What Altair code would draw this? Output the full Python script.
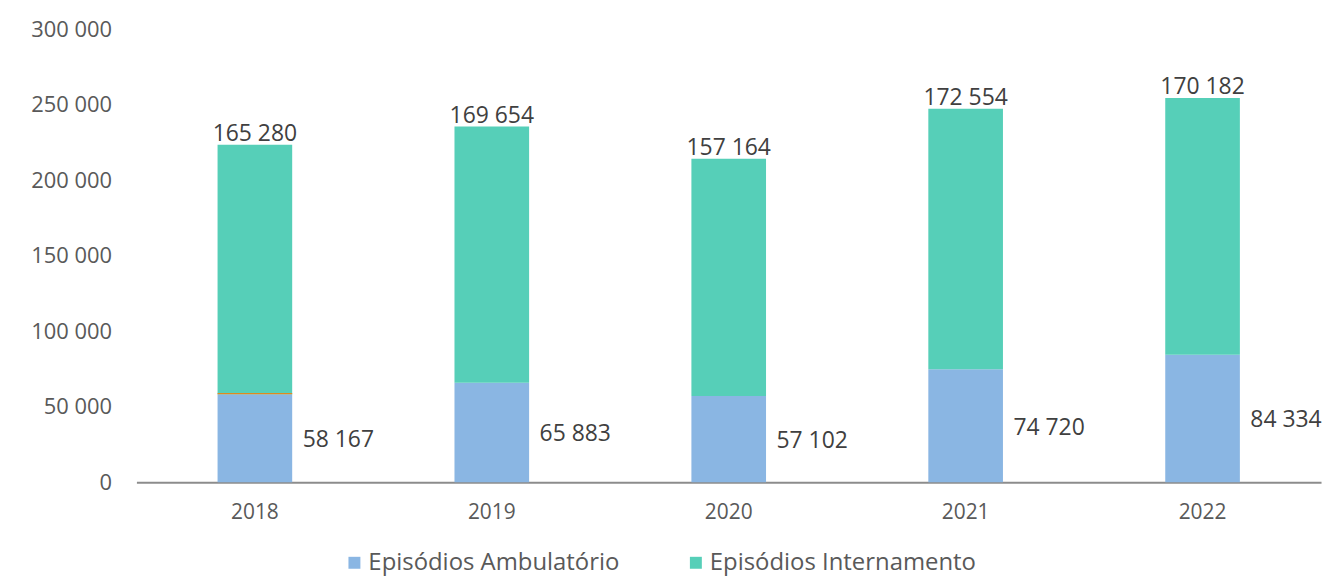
import altair as alt
import pandas as pd

years = ["2018", "2019", "2020", "2021", "2022"]
ambulatorio = [58167, 65883, 57102, 74720, 84334]
internamento = [165280, 169654, 157164, 172554, 170182]
outros = [800, 0, 0, 0, 0]  # thin orange sliver seen on 2018 bar
series = ["Episódios Ambulatório", "Episódios Internamento"]
colors = ["#8AB6E3", "#56CFB8"]
y_ticks = [0, 50000, 100000, 150000, 200000, 250000, 300000]


def fmt(v):
    return f"{v:,}".replace(",", " ")


rows = []
for i, yr in enumerate(years):
    a, n = ambulatorio[i], internamento[i]
    rows.append({"year": yr, "series": series[0], "y0": 0, "y1": a,
                 "val": a, "label": fmt(a)})
    rows.append({"year": yr, "series": series[1], "y0": a, "y1": a + n,
                 "val": n, "label": fmt(n)})
df = pd.DataFrame(rows)
df_amb = df[df.series == series[0]].copy()
df_amb["mid"] = df_amb["y1"] / 2
df_int = df[df.series == series[1]].copy()

df_other = pd.DataFrame({"year": years, "a": ambulatorio, "o": outros})
df_other["top"] = df_other["a"] + df_other["o"]
df_other = df_other[df_other.o > 0]

FONT = "Open Sans"

x_enc = alt.X("year:N", sort=years, title=None,
              scale=alt.Scale(paddingInner=0.685, paddingOuter=0.3425),
              axis=alt.Axis(labelAngle=0, labelFontSize=21, labelColor="#595959",
                            labelPadding=20, ticks=False, domainColor="#8C8C8C",
                            domainWidth=2, labelFont=FONT))
y_scale = alt.Scale(domain=[0, 300000], nice=False)

bars = alt.Chart(df).mark_bar().encode(
    x=x_enc,
    y=alt.Y("y0:Q", scale=y_scale, title=None,
            axis=alt.Axis(values=y_ticks, grid=False, domain=False, ticks=False,
                          labelExpr="replace(format(datum.value, ','), /,/g, ' ')",
                          labelFontSize=22, labelColor="#595959", labelPadding=25,
                          labelFont=FONT)),
    y2="y1:Q",
    color=alt.Color("series:N", sort=series,
                    scale=alt.Scale(domain=series, range=colors),
                    legend=alt.Legend(title=None, orient="none", direction="horizontal",
                                      legendX=207, legendY=524, symbolType="square",
                                      symbolSize=144, symbolStrokeWidth=0,
                                      symbolOpacity=1, labelFontSize=24,
                                      labelColor="#595959", labelFont=FONT,
                                      labelOffset=2, columnPadding=64,
                                      labelLimit=400)),
)

other = alt.Chart(df_other).mark_bar(color="#E0891E").encode(
    x=alt.X("year:N", sort=years),
    y=alt.Y("a:Q", scale=y_scale),
    y2="top:Q",
)

top_labels = alt.Chart(df_int).mark_text(
    baseline="alphabetic", dy=-4, fontSize=23, color="#404040", font=FONT
).encode(
    x=alt.X("year:N", sort=years),
    y=alt.Y("y1:Q", scale=y_scale),
    text="label:N",
)

amb_labels = alt.Chart(df_amb).mark_text(
    align="left", baseline="middle", dx=48, dy=2, fontSize=23, color="#404040",
    font=FONT
).encode(
    x=alt.X("year:N", sort=years),
    y=alt.Y("mid:Q", scale=y_scale),
    text="label:N",
)

chart = alt.layer(bars, other, top_labels, amb_labels).properties(
    width=1190, height=455,
    autosize=alt.AutoSizeParams(type="none"),
    padding={"left": 129, "top": 20, "right": 5, "bottom": 99},
).configure(font=FONT).configure_view(stroke="transparent", strokeWidth=0)

chart.save("out.html", embed_options={"renderer": "svg", "actions": False})
